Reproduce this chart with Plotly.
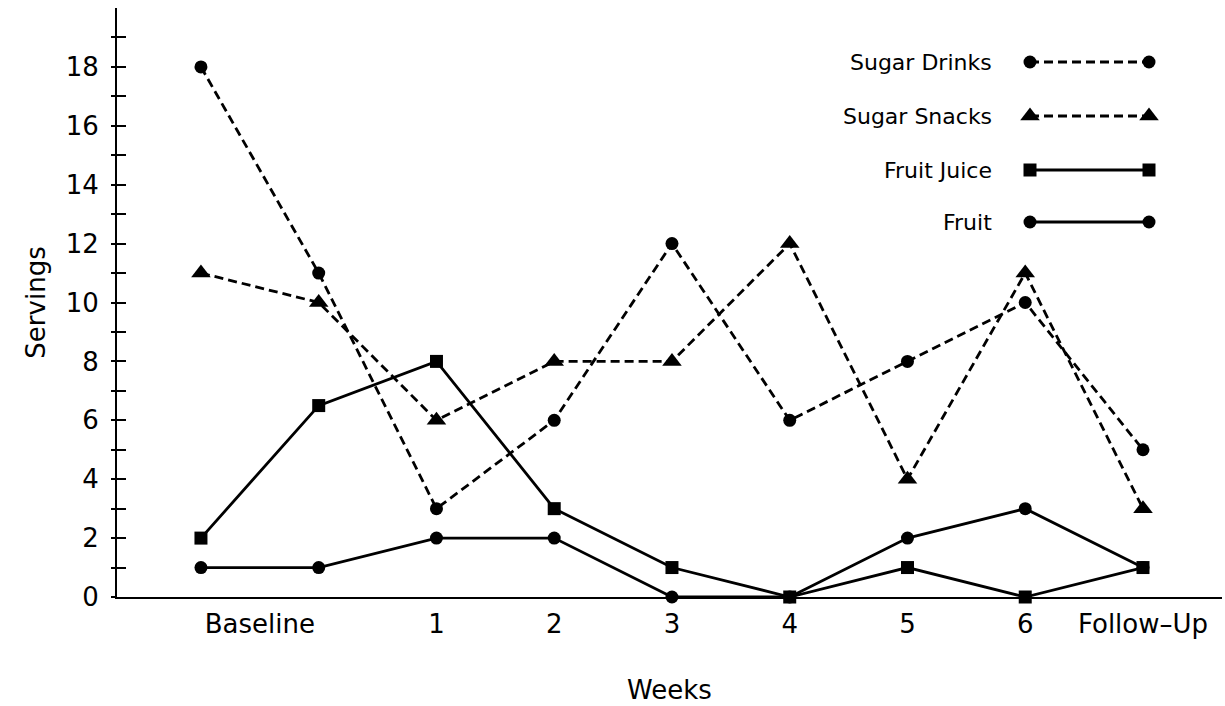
import plotly.graph_objects as go

# ---- data ----
timepoints = [0, 1, 2, 3, 4, 5, 6, 7, 8]
sugar_drinks = [18, 11, 3, 6, 12, 6, 8, 10, 5]
sugar_snacks = [11, 10, 6, 8, 8, 12, 4, 11, 3]
fruit_juice = [2, 6.5, 8, 3, 1, 0, 1, 0, 1]
fruit = [1, 1, 2, 2, 0, 0, 2, 3, 1]

tick_labels = ["Baseline", "1", "2", "3", "4", "5", "6", "Follow\u2013Up"]
tick_positions = [0.5, 2, 3, 4, 5, 6, 7, 8]

series = [
    ("Sugar Drinks", sugar_drinks, "circle", "dash", 13),
    ("Sugar Snacks", sugar_snacks, "triangle-up", "dash", 17),
    ("Fruit Juice", fruit_juice, "square", "solid", 13),
    ("Fruit", fruit, "circle", "solid", 13),
]

FONT = "DejaVu Sans"
W, H = 1225, 706
L, R, T, B = 117, 3, 8, 109
DASH = "9px,5px"
LW = 2.8

fig = go.Figure()
for name, vals, sym, dash, size in series:
    fig.add_trace(go.Scatter(
        x=timepoints, y=vals, mode="lines+markers", name=name,
        line=dict(color="black", width=LW, dash=DASH if dash == "dash" else "solid"),
        marker=dict(symbol=sym, size=size, color="black"),
        cliponaxis=False, showlegend=False, xaxis="x", yaxis="y",
    ))

# ---- custom legend drawn in pixel-mapped overlay axes ----
leg_rows = [62, 116, 170, 222]
leg_x0, leg_x1, leg_text_right = 1030, 1149, 994
for (name, vals, sym, dash, size), yrow in zip(series, leg_rows):
    fig.add_trace(go.Scatter(
        x=[leg_x0, leg_x1], y=[yrow, yrow], mode="lines+markers",
        line=dict(color="black", width=LW, dash=DASH if dash == "dash" else "solid"),
        marker=dict(symbol=sym, size=size, color="black"),
        cliponaxis=False, showlegend=False, xaxis="x3", yaxis="y3", hoverinfo="skip",
    ))
    fig.add_annotation(x=leg_text_right, y=yrow, xref="x3", yref="y3", text=name,
                       showarrow=False, xanchor="right", yanchor="middle",
                       font=dict(family=FONT, size=22, color="black"))

# dummy trace for inside-tick overlay axis
fig.add_trace(go.Scatter(x=[None], y=[None], xaxis="x", yaxis="y2", showlegend=False))

yr = [0, 20.0]
TF = 26
fig.update_layout(
    width=W, height=H,
    margin=dict(l=L, r=R, t=T, b=B),
    paper_bgcolor="white", plot_bgcolor="white",
    font=dict(family=FONT, size=TF, color="black"),
    showlegend=False,
    xaxis=dict(
        range=[-0.713, 8.671], showgrid=False, zeroline=False,
        showline=True, linecolor="black", linewidth=2,
        tickmode="array", tickvals=tick_positions, ticktext=tick_labels,
        ticks="", ticklabelstandoff=3,
        tickfont=dict(family=FONT, size=TF),
        title=dict(text="Weeks", font=dict(family=FONT, size=TF), standoff=43),
    ),
    yaxis=dict(
        range=yr, showgrid=False, zeroline=False,
        showline=True, linecolor="black", linewidth=2,
        tickmode="array", tickvals=[0, 2, 4, 6, 8, 10, 12, 14, 16, 18],
        ticks="outside", ticklen=4, tickwidth=2, tickcolor="black",
        ticklabelstandoff=7,
        minor=dict(tickmode="array", tickvals=[1, 3, 5, 7, 9, 11, 13, 15, 17, 19],
                   ticks="outside", ticklen=4, tickwidth=2, tickcolor="black"),
        tickfont=dict(family=FONT, size=TF),
        title=dict(text="Servings", font=dict(family=FONT, size=TF), standoff=13),
    ),
    yaxis2=dict(
        range=yr, overlaying="y", anchor="x", side="left",
        showgrid=False, zeroline=False, showline=False, showticklabels=False,
        tickmode="array", tickvals=[0, 2, 4, 6, 8, 10, 12, 14, 16, 18],
        ticks="inside", ticklen=9, tickwidth=2, tickcolor="black",
        minor=dict(tickmode="array", tickvals=[1, 3, 5, 7, 9, 11, 13, 15, 17, 19],
                   ticks="inside", ticklen=9, tickwidth=2, tickcolor="black"),
    ),
    xaxis3=dict(range=[L, W - R], overlaying="x", visible=False, fixedrange=True),
    yaxis3=dict(range=[H - B, T], overlaying="y", visible=False, fixedrange=True, anchor="x3"),
)

fig.write_html("out.html", config={"displayModeBar": False},
               post_script="document.body.style.margin='0px';document.body.style.overflow='hidden';")
